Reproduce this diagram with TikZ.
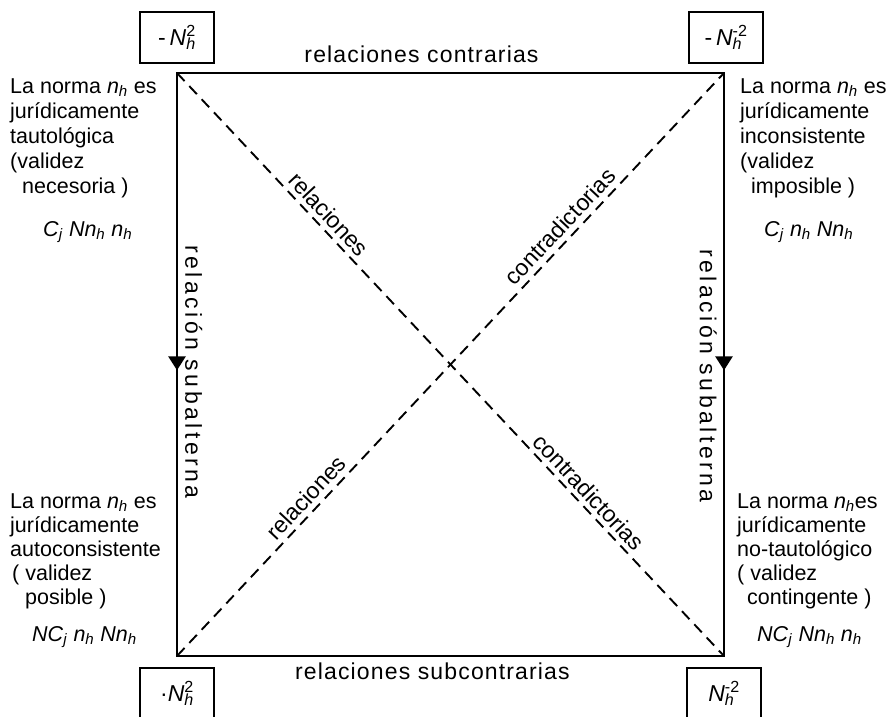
\documentclass[tikz,border=0pt]{standalone}
\usepackage{fontspec}
\setmainfont{Liberation Sans}
\newfontfamily\spacedA[LetterSpace=5]{Liberation Sans}
\newfontfamily\spacedB[LetterSpace=15]{Liberation Sans}
\usetikzlibrary{arrows.meta,decorations.markings}
\newcommand\sbh[1]{\textsubscript{\textit{#1}}}
\newcommand\nh{\textit{n}\sbh{h}}
\newcommand\Nnh{\textit{Nn}\sbh{h}}
\newcommand\Cj{\textit{C}\sbh{j}}
\newcommand\NCj{\textit{NC}\sbh{j}}
\newcommand\Nexp[1]{\textit{N}\rlap{\sbh{h}}\textsuperscript{#1}}
\begin{document}
\begin{tikzpicture}[x=1pt,y=-1pt,
  every node/.style={font=\fontsize{23}{27}\selectfont},
  sq/.style={line width=2.7pt, line join=miter},
  diag/.style={line width=1.9pt, dash pattern=on 11pt off 7pt},
  cornerbox/.style={draw, line width=2.2pt, minimum width=74pt, minimum height=51pt, inner sep=0pt},
  side/.style={anchor=base west, inner sep=0pt, font=\fontsize{21.5}{26}\selectfont},
  dlab/.style={inner sep=0pt},
  midarrow/.style={postaction={decorate}, decoration={markings, mark=at position #1 with {\arrow{Triangle[width=17pt,length=14pt]}}}},
]
\useasboundingbox (0,0) rectangle (889,717);
\clip (0,0) rectangle (889,717);

\coordinate (TL) at (177,73);
\coordinate (TR) at (724,73);
\coordinate (BL) at (177,656);
\coordinate (BR) at (724,656);

% corner boxes
\node[cornerbox] (bTL) at (177,37.5) {-\,\Nexp{2}};
\node[cornerbox] (bTR) at (726,37.5) {-\,\Nexp{-2}};
\node[cornerbox] (bBL) at (177,693.5) {\textperiodcentered\Nexp{2}};
\node[cornerbox] (bBR) at (724,693.5) {\Nexp{-2}};

% square
\draw[sq] (TL) -- (TR) -- (BR) -- (BL) -- cycle;
\draw[sq, midarrow=0.51] (TL) -- (BL);
\draw[sq, midarrow=0.51] (TR) -- (BR);

% diagonals
\draw[diag] (TL) -- (BR);
\draw[diag] (BL) -- (TR);
\node[dlab, rotate=-46.83] (rel1) at (329,214.5) {relaciones};
\node[dlab, rotate=-46.83] (con2) at (589,492) {contradictorias};
\node[dlab, rotate=46.83] (con1) at (560,226.5) {contradictorias};
\node[dlab, rotate=46.83] (rel2) at (306,497.5) {relaciones};

% edge labels
\path (TL) -- node[above, pos=0.447, inner sep=10pt] (topl) {\spacedA relaciones contrarias} (TR);
\path (BL) -- node[below, pos=0.467, inner sep=7pt] (botl) {\spacedA relaciones subcontrarias} (BR);
\node[rotate=-90, anchor=south, inner sep=0pt] (sub1) at (185,372) {\spacedB relación subalterna};
\node[rotate=-90, anchor=north, inner sep=0pt] (sub2) at (717,376) {\spacedB relación subalterna};

% left upper
\node[side] (lu1) at (10,93) {La norma \nh{} es};
\node[side] (lu2) at (10,118) {jurídicamente};
\node[side] (lu3) at (10,143) {tautológica};
\node[side] (lu4) at (10,168) {(validez};
\node[side] (lu5) at (22,193) {necesoria )};
\node[side] (lu6) at (43,236) {\Cj{} \Nnh{} \nh};

% right upper
\node[side] (ru1) at (740,93) {La norma \nh{} es};
\node[side] (ru2) at (740,118) {jurídicamente};
\node[side] (ru3) at (740,143) {inconsistente};
\node[side] (ru4) at (740,168) {(validez};
\node[side] (ru5) at (751,193) {imposible )};
\node[side] (ru6) at (764,236) {\Cj{} \nh{} \Nnh};

% left lower
\node[side] (ll1) at (10,508) {La norma \nh{} es};
\node[side] (ll2) at (10,532) {jurídicamente};
\node[side] (ll3) at (10,556) {autoconsistente};
\node[side] (ll4) at (12,580) {( validez};
\node[side] (ll5) at (25,604) {posible )};
\node[side] (ll6) at (32,641) {\NCj{} \nh{} \Nnh};

% right lower
\node[side] (rl1) at (737,508) {La norma \nh es};
\node[side] (rl2) at (737,532) {jurídicamente};
\node[side] (rl3) at (737,556) {no-tautológico};
\node[side] (rl4) at (737,580) {( validez};
\node[side] (rl5) at (747,604) {contingente )};
\node[side] (rl6) at (757,641) {\NCj{} \Nnh{} \nh};
\end{tikzpicture}
\end{document}
